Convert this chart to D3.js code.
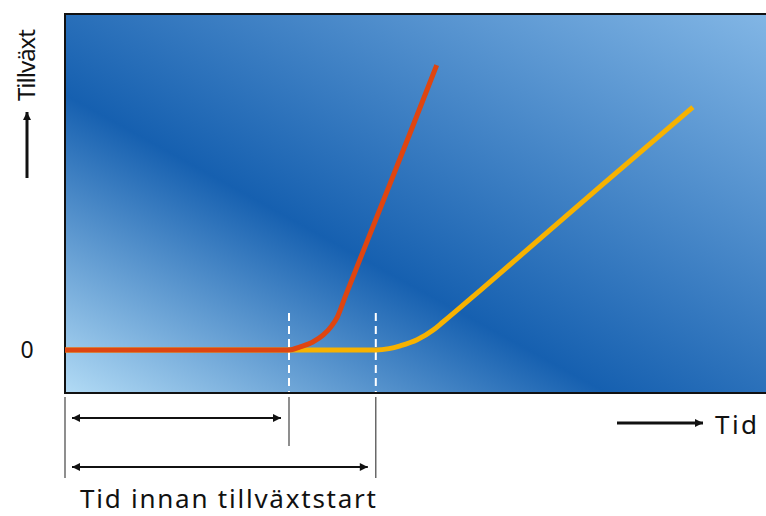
<!DOCTYPE html>
<html>
<head>
<meta charset="utf-8">
<script src="https://cdn.jsdelivr.net/npm/d3@7"></script>
<style>
  body { margin: 0; background: #fff; }
  text { font-family: "Noto Sans", "Open Sans", sans-serif; fill: #111; }
</style>
</head>
<body>
<div id="chart"></div>
<script>
// lag phase: time (x) and growth (y), arbitrary units
var redX = [0, 3.2, 3.36, 3.54, 3.69, 3.81, 3.89, 4.0, 4.5, 4.93, 5.31];
var redY = [0, 0, 0.09, 0.23, 0.43, 0.69, 0.94, 1.51, 4.03, 6.2, 8.14];
var yellowX = [0, 4.44, 4.63, 4.79, 5.03, 5.26, 5.4, 5.97, 7.64, 8.97];
var yellowY = [0, 0, 0.04, 0.12, 0.29, 0.57, 0.8, 1.77, 4.66, 6.94];
var lagEnds = [3.2, 4.44];
var yLabel = "Tillväxt";
var xLabel = "Tid";
var zeroLabel = "0";
var spanLabel = "Tid innan tillväxtstart";

var width = 766, height = 516;

var svg = d3.select("#chart").append("svg")
    .attr("width", width)
    .attr("height", height);

var xScale = d3.scaleLinear().domain([0, 10]).range([65, 765]);
var yScale = d3.scaleLinear().domain([0, 10]).range([350, 0]);

var plotTop = 14, plotBottom = 393;

var defs = svg.append("defs");
var grad = defs.append("linearGradient")
    .attr("id", "bg")
    .attr("gradientUnits", "userSpaceOnUse")
    .attr("x1", 65).attr("y1", 393)
    .attr("x2", 388).attr("y2", -194);
grad.append("stop").attr("offset", 0).attr("stop-color", "#b2dbf5");
grad.append("stop").attr("offset", 0.39).attr("stop-color", "#1660b0");
grad.append("stop").attr("offset", 1).attr("stop-color", "#82b6e5");

svg.append("rect")
    .attr("x", xScale(0))
    .attr("y", plotTop)
    .attr("width", width + 10 - xScale(0))
    .attr("height", plotBottom - plotTop)
    .attr("fill", "url(#bg)")
    .attr("stroke", "#111")
    .attr("stroke-width", 2);

// dashed markers at end of each lag phase
svg.selectAll(".lag")
    .data(lagEnds)
    .enter().append("line")
    .attr("x1", d => xScale(d)).attr("x2", d => xScale(d))
    .attr("y1", 313).attr("y2", plotBottom - 1)
    .attr("stroke", "#fff")
    .attr("stroke-width", 2)
    .attr("stroke-dasharray", "8,5");

var line = d3.line()
    .x(d => xScale(d[0]))
    .y(d => yScale(d[1]))
    .curve(d3.curveMonotoneX);

svg.append("path")
    .datum(d3.zip(yellowX, yellowY))
    .attr("d", line)
    .attr("fill", "none")
    .attr("stroke", "#f7b200")
    .attr("stroke-width", 5);

svg.append("path")
    .datum(d3.zip(redX, redY))
    .attr("d", line)
    .attr("fill", "none")
    .attr("stroke", "#df4510")
    .attr("stroke-width", 5);

// arrow markers
function marker(id, orient) {
  defs.append("marker")
      .attr("id", id)
      .attr("viewBox", "0 0 10 10")
      .attr("refX", 10).attr("refY", 5)
      .attr("markerWidth", 16).attr("markerHeight", 8)
      .attr("markerUnits", "userSpaceOnUse")
      .attr("orient", orient)
    .append("path")
      .attr("d", "M0,0L10,5L0,10Z")
      .attr("fill", "#111");
}
marker("ah", "auto");
marker("ahs", "auto-start-reverse");

// span ticks below plot
var tickBottoms = [478, 446, 478];
var ticks = [0].concat(lagEnds);
svg.selectAll(".tk")
    .data(ticks)
    .enter().append("line")
    .attr("x1", d => xScale(d)).attr("x2", d => xScale(d))
    .attr("y1", 397)
    .attr("y2", (d, i) => tickBottoms[i])
    .attr("stroke", "#444")
    .attr("stroke-width", 1.2);

var spanY = [418, 467];
svg.selectAll(".span")
    .data(lagEnds)
    .enter().append("line")
    .attr("x1", xScale(0) + 7)
    .attr("x2", d => xScale(d) - 8)
    .attr("y1", (d, i) => spanY[i])
    .attr("y2", (d, i) => spanY[i])
    .attr("stroke", "#111")
    .attr("stroke-width", 2)
    .attr("marker-start", "url(#ahs)")
    .attr("marker-end", "url(#ah)");

svg.append("text")
    .attr("x", 80)
    .attr("y", 508)
    .attr("font-size", 26)
    .attr("textLength", 296)
    .attr("lengthAdjust", "spacing")
    .text(spanLabel);

svg.append("text")
    .attr("x", 27)
    .attr("y", yScale(0) + 8)
    .attr("text-anchor", "middle")
    .attr("font-size", 23)
    .text(zeroLabel);

// axis titles with arrows
svg.append("line")
    .attr("x1", 617).attr("x2", 703)
    .attr("y1", 423).attr("y2", 423)
    .attr("stroke", "#111").attr("stroke-width", 3)
    .attr("marker-end", "url(#ah)");
svg.append("text")
    .attr("x", 715).attr("y", 434)
    .attr("font-size", 26)
    .attr("textLength", 42)
    .attr("lengthAdjust", "spacing")
    .text(xLabel);

svg.append("line")
    .attr("x1", 27).attr("x2", 27)
    .attr("y1", 178).attr("y2", 112)
    .attr("stroke", "#111").attr("stroke-width", 3)
    .attr("marker-end", "url(#ah)");
svg.append("text")
    .attr("transform", "translate(35,101) rotate(-90)")
    .attr("font-size", 24)
    .attr("textLength", 72)
    .attr("lengthAdjust", "spacing")
    .text(yLabel);
</script>
</body>
</html>
